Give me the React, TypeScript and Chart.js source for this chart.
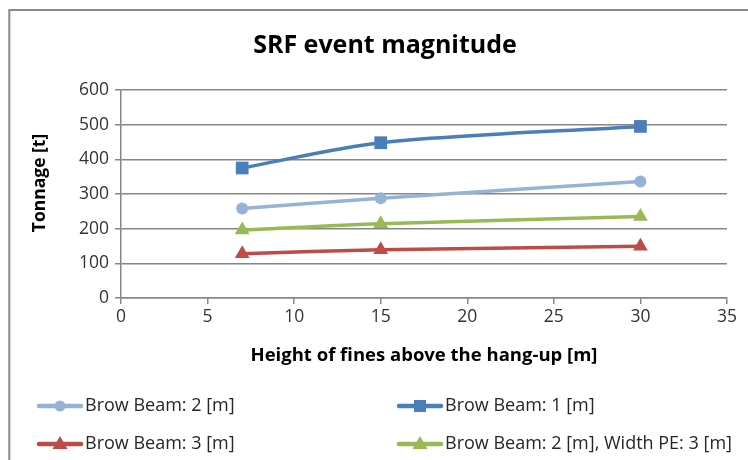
import React, { useEffect, useRef } from "react";
import { Chart, registerables } from "chart.js";

Chart.register(...registerables);

// Heights of fines above the hang-up [m]
const heights = [7, 15, 30];

// Tonnage [t] per brow beam configuration
const browBeam2 = [258, 288, 336];
const browBeam1 = [375, 448, 495];
const browBeam3 = [128, 139, 149];
const browBeam2WidthPE3 = [196, 214, 235];

const seriesLabels = [
  "Brow Beam: 2 [m]",
  "Brow Beam: 1 [m]",
  "Brow Beam: 3 [m]",
  "Brow Beam: 2 [m], Width PE: 3 [m]",
];

const chartTitle = "SRF event magnitude";
const xAxisTitle = "Height of fines above the hang-up [m]";
const yAxisTitle = "Tonnage [t]";

const FONT = "'Open Sans', 'Noto Sans', sans-serif";
const AXIS_GRAY = "#868686";

type Marker = "circle" | "rect" | "triangle";

function drawMarker(ctx: CanvasRenderingContext2D, kind: Marker, x: number, y: number) {
  ctx.beginPath();
  if (kind === "circle") {
    ctx.arc(x, y, 5.5, 0, Math.PI * 2);
  } else if (kind === "rect") {
    ctx.rect(x - 6, y - 6, 12, 12);
  } else {
    ctx.moveTo(x, y - 8);
    ctx.lineTo(x + 7.5, y + 5);
    ctx.lineTo(x - 7.5, y + 5);
    ctx.closePath();
  }
  ctx.fill();
}

const framePlugin = {
  id: "frame",
  beforeDraw(chart: any) {
    const ctx = chart.ctx as CanvasRenderingContext2D;
    ctx.save();
    ctx.fillStyle = "#ffffff";
    ctx.fillRect(0, 0, chart.width, chart.height);
    ctx.strokeStyle = "#888888";
    ctx.lineWidth = 2;
    ctx.strokeRect(9.3, 10, chart.width + 20, chart.height + 20);
    ctx.restore();
  },
};

const titlesPlugin = {
  id: "titleTexts",
  afterDraw(chart: any) {
    const ctx = chart.ctx as CanvasRenderingContext2D;
    ctx.save();
    ctx.fillStyle = "#000000";
    ctx.textAlign = "center";
    ctx.textBaseline = "middle";
    ctx.font = `bold 25px ${FONT}`;
    ctx.fillText(chartTitle, 385, 46);
    // vertical axis title, rotated
    ctx.translate(40, 183);
    ctx.rotate(-Math.PI / 2);
    ctx.font = `bold 17.5px ${FONT}`;
    ctx.fillText(yAxisTitle, 0, 0);
    ctx.restore();
  },
};

const legendPlugin = {
  id: "lineLegend",
  afterDraw(chart: any) {
    const ctx = chart.ctx as CanvasRenderingContext2D;
    const slots = [
      { x: 37, y: 406 },
      { x: 397, y: 406 },
      { x: 37, y: 444 },
      { x: 397, y: 444 },
    ];
    ctx.save();
    chart.data.datasets.forEach((ds: any, i: number) => {
      const s = slots[i];
      ctx.strokeStyle = ds.borderColor;
      ctx.fillStyle = ds.pointBackgroundColor;
      ctx.lineWidth = 4.5;
      ctx.lineCap = "round";
      ctx.beginPath();
      ctx.moveTo(s.x + 2, s.y);
      ctx.lineTo(s.x + 44, s.y);
      ctx.stroke();
      drawMarker(ctx, ds.markerKind, s.x + 23, s.y);
      ctx.fillStyle = "#262626";
      ctx.font = `18px ${FONT}`;
      ctx.textAlign = "left";
      ctx.textBaseline = "middle";
      ctx.fillText(ds.label, s.x + 48, s.y);
    });
    ctx.restore();
  },
};

export default function App() {
  const canvasRef = useRef<HTMLCanvasElement | null>(null);

  useEffect(() => {
    const canvas = canvasRef.current;
    if (!canvas) return;

    const radius: Record<Marker, number> = { circle: 6, rect: 9, triangle: 8.5 };

    const mk = (label: string, values: number[], color: string, point: any, markerKind: Marker) => ({
      label,
      data: heights.map((h, i) => ({ x: h, y: values[i] })),
      borderColor: color,
      backgroundColor: color,
      pointBackgroundColor: color,
      pointBorderColor: color,
      pointStyle: point,
      pointRadius: radius[markerKind],
      pointBorderWidth: 0,
      borderWidth: 3.5,
      tension: 0.3,
      markerKind,
    });

    const chart = new Chart(canvas, {
      type: "line",
      data: {
        datasets: [
          mk(seriesLabels[0], browBeam2, "#95B3D7", "circle", "circle"),
          mk(seriesLabels[1], browBeam1, "#4A7EBB", "rect", "rect"),
          mk(seriesLabels[2], browBeam3, "#BE4B48", "triangle", "triangle"),
          mk(seriesLabels[3], browBeam2WidthPE3, "#98B954", "triangle", "triangle"),
        ] as any,
      },
      options: {
        animation: false,
        responsive: false,
        layout: { padding: { left: 0, right: 21, top: 90, bottom: 90 } },
        plugins: {
          legend: { display: false },
          title: { display: false },
          tooltip: { enabled: false },
        },
        scales: {
          x: {
            type: "linear",
            min: 0,
            max: 35,
            ticks: { stepSize: 5, color: "#333333", font: { family: FONT, size: 17.5 }, padding: 3 },
            grid: { drawOnChartArea: false, drawTicks: true, tickLength: 6, color: AXIS_GRAY, lineWidth: 1.5 },
            border: { display: true, color: AXIS_GRAY, width: 1.5 },
            title: {
              display: true,
              text: xAxisTitle,
              color: "#000000",
              font: { family: FONT, size: 18.5, weight: "bold" },
              padding: { top: 0, bottom: 3 },
            },
            afterFit: (scale: any) => {
              scale.height = 72;
            },
          },
          y: {
            min: 0,
            max: 600,
            ticks: { stepSize: 100, color: "#333333", font: { family: FONT, size: 17.5 }, padding: 6 },
            grid: { drawOnChartArea: true, drawTicks: true, tickLength: 6, color: AXIS_GRAY, lineWidth: 1.5 },
            border: { display: true, color: AXIS_GRAY, width: 1.5 },
            afterFit: (scale: any) => {
              scale.width = 121;
            },
          },
        },
      } as any,
      plugins: [framePlugin, titlesPlugin, legendPlugin],
    });

    return () => chart.destroy();
  }, []);

  return (
    <div style={{ position: "fixed", left: 0, top: 0, width: 748, height: 460, background: "#fff" }}>
      <canvas ref={canvasRef} width={748} height={460} style={{ display: "block", width: 748, height: 460 }} />
    </div>
  );
}
